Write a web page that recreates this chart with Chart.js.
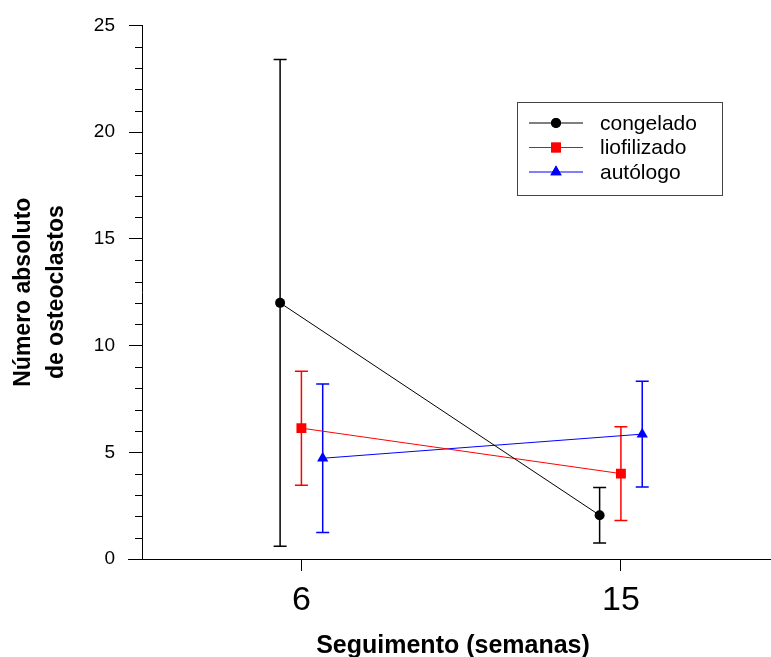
<!DOCTYPE html>
<html>
<head>
<meta charset="utf-8">
<script src="https://cdn.jsdelivr.net/npm/chart.js@4"></script>
<style>
  body { margin: 0; background: #fff; }
</style>
</head>
<body>
<canvas id="myChart" width="771" height="657"></canvas>
<script>
const weeks = [6, 15];

const congeladoMean = [12.0, 2.05];
const congeladoErr = [11.4, 1.3];
const liofilizadoMean = [6.13, 4.0];
const liofilizadoErr = [2.67, 2.2];
const autologoMean = [4.72, 5.85];
const autologoErr = [3.48, 2.48];

const yTicks = [0, 5, 10, 15, 20, 25];

const FONT = "'Liberation Sans', Arial, sans-serif";

function points(means, dodge) {
  return weeks.map((w, i) => ({ x: w + dodge, y: means[i] }));
}

const data = {
  datasets: [
    {
      label: "congelado",
      data: points(congeladoMean, -0.6),
      errors: congeladoErr,
      borderColor: "#000000",
      backgroundColor: "#000000",
      pointStyle: "circle",
      pointRadius: 5,
    },
    {
      label: "liofilizado",
      data: points(liofilizadoMean, 0),
      errors: liofilizadoErr,
      borderColor: "#ff0000",
      backgroundColor: "#ff0000",
      pointStyle: "rect",
      pointRadius: 7,
    },
    {
      label: "autólogo",
      data: points(autologoMean, 0.6),
      errors: autologoErr,
      borderColor: "#0000ff",
      backgroundColor: "#0000ff",
      pointStyle: "triangle",
      pointRadius: 6.5,
    },
  ],
};

// vertical error bars with caps, drawn under the markers
const errorBars = {
  id: "errorBars",
  beforeDatasetsDraw(chart) {
    const ctx = chart.ctx;
    const x = chart.scales.x;
    const y = chart.scales.y;
    chart.data.datasets.forEach((ds) => {
      ctx.save();
      ctx.strokeStyle = ds.borderColor;
      ctx.lineWidth = 1.5;
      ds.data.forEach((p, i) => {
        const px = x.getPixelForValue(p.x);
        const top = y.getPixelForValue(p.y + ds.errors[i]);
        const bot = y.getPixelForValue(p.y - ds.errors[i]);
        ctx.beginPath();
        ctx.moveTo(px, top);
        ctx.lineTo(px, bot);
        ctx.moveTo(px - 6.5, top);
        ctx.lineTo(px + 6.5, top);
        ctx.moveTo(px - 6.5, bot);
        ctx.lineTo(px + 6.5, bot);
        ctx.stroke();
      });
      ctx.restore();
    });
  },
};

// minor y ticks, x axis running edge to edge, and the boxed legend
const extras = {
  id: "extras",
  afterDraw(chart) {
    const ctx = chart.ctx;
    const area = chart.chartArea;
    const y = chart.scales.y;
    ctx.save();
    ctx.strokeStyle = "#000";
    ctx.lineWidth = 1;
    ctx.beginPath();
    for (let v = 1; v < 25; v++) {
      if (v % 5 === 0) continue;
      const py = Math.round(y.getPixelForValue(v)) + 0.5;
      ctx.moveTo(area.left - 7, py);
      ctx.lineTo(area.left, py);
    }
    const by = Math.round(area.bottom) + 0.5;
    ctx.moveTo(area.left - 14, by);
    ctx.lineTo(chart.width, by);
    ctx.stroke();

    // legend
    const lx = 517, ly = 102, lw = 205, lh = 93;
    ctx.strokeStyle = "#444";
    ctx.strokeRect(lx + 0.5, ly + 0.5, lw, lh);
    ctx.font = "21px " + FONT;
    ctx.textBaseline = "middle";
    ctx.textAlign = "left";
    chart.data.datasets.forEach((ds, i) => {
      const ry = ly + 21 + i * 24.5;
      ctx.strokeStyle = ds.borderColor;
      ctx.lineWidth = 1;
      ctx.beginPath();
      ctx.moveTo(529, ry);
      ctx.lineTo(583, ry);
      ctx.stroke();
      ctx.fillStyle = ds.backgroundColor;
      Chart.helpers.drawPoint(ctx, { pointStyle: ds.pointStyle, radius: ds.pointRadius, borderWidth: 0 }, 556, ry);
      ctx.fill();
      ctx.fillStyle = "#000";
      ctx.fillText(ds.label, 600, ry + 1);
    });
    ctx.restore();
  },
};

const config = {
  type: "scatter",
  data: data,
  options: {
    responsive: false,
    animation: false,
    showLine: true,
    borderWidth: 1,
    layout: { padding: { top: 25, left: 0, right: 0, bottom: 0 } },
    elements: {
      line: { borderWidth: 1, tension: 0 },
      point: { borderWidth: 0, hoverRadius: 6 },
    },
    plugins: {
      legend: { display: false },
      tooltip: { enabled: false },
    },
    scales: {
      x: {
        type: "linear",
        min: 1.51,
        max: 19.03,
        afterFit(scale) {
          scale.height = 98;
        },
        afterBuildTicks(scale) {
          scale.ticks = weeks.map((w) => ({ value: w }));
        },
        border: { display: true, color: "#000", width: 1 },
        grid: { drawOnChartArea: false, tickLength: 12, color: "#000" },
        ticks: {
          color: "#000",
          padding: 9,
          font: { family: FONT, size: 34 },
        },
        title: {
          display: true,
          text: "Seguimento (semanas)",
          color: "#000",
          font: { family: FONT, size: 25, weight: "bold", lineHeight: 1 },
          padding: { top: 0, bottom: -2 },
        },
      },
      y: {
        min: 0,
        max: 25,
        afterFit(scale) {
          scale.width = 142;
        },
        afterBuildTicks(scale) {
          scale.ticks = yTicks.map((v) => ({ value: v }));
        },
        border: { display: true, color: "#000", width: 1 },
        grid: { drawOnChartArea: false, tickLength: 13, color: "#000" },
        ticks: {
          color: "#000",
          padding: 14,
          font: { family: FONT, size: 19 },
        },
        title: {
          display: true,
          text: ["Número absoluto", "de osteoclastos"],
          color: "#000",
          font: { family: FONT, size: 23, weight: "bold", lineHeight: 1.43 },
          padding: { top: 7, bottom: 0 },
        },
      },
    },
  },
  plugins: [errorBars, extras],
};

const myChart = new Chart(document.getElementById("myChart"), config);
</script>
</body>
</html>
